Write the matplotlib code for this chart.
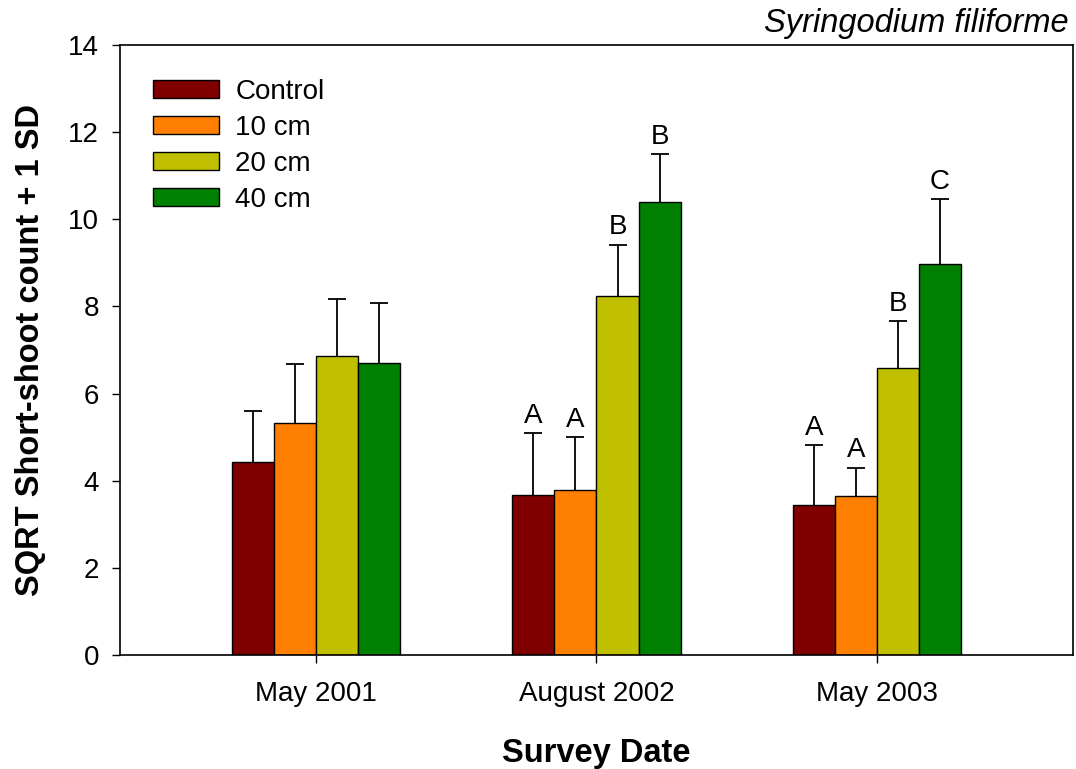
import matplotlib
matplotlib.use("Agg")
from matplotlib import pyplot as plt
import numpy as np

plt.rcParams['font.family'] = ['Liberation Sans', 'DejaVu Sans']

# ---- data ----
dates = ["May 2001", "August 2002", "May 2003"]
treatments = ["Control", "10 cm", "20 cm", "40 cm"]

control = [4.42, 3.68, 3.45]
cm10 = [5.32, 3.79, 3.64]
cm20 = [6.87, 8.25, 6.58]
cm40 = [6.70, 10.40, 8.98]

control_sd = [1.18, 1.42, 1.36]
cm10_sd = [1.37, 1.21, 0.66]
cm20_sd = [1.29, 1.17, 1.08]
cm40_sd = [1.39, 1.10, 1.49]

control_let = ["", "A", "A"]
cm10_let = ["", "A", "A"]
cm20_let = ["", "B", "B"]
cm40_let = ["", "B", "C"]

colors = ["#800000", "#FF8000", "#C0C000", "#008000"]

means = [control, cm10, cm20, cm40]
sds = [control_sd, cm10_sd, cm20_sd, cm40_sd]
letters = [control_let, cm10_let, cm20_let, cm40_let]

fig = plt.figure(figsize=(10.76, 7.69), dpi=100)
ax = fig.add_axes([0.1115, 0.1482, 0.8857, 0.7933])

x = np.arange(len(dates))
width = 0.15

for i in range(len(treatments)):
    pos = x + (i - 1.5) * width
    ax.bar(pos, means[i], width, color=colors[i], edgecolor="black",
           linewidth=1.0, label=treatments[i], zorder=2)
    eb = ax.errorbar(pos, means[i], yerr=[np.zeros(len(dates)), sds[i]], fmt="none",
                     ecolor="black", elinewidth=1.3, capsize=6.5, capthick=1.3, zorder=3)
    eb[1][0].set_visible(False)   # no cap on the bar top, only the upper one
    for j in range(len(dates)):
        if letters[i][j]:
            ax.annotate(letters[i][j], (pos[j], means[i][j] + sds[i][j]),
                        xytext=(0, 3), textcoords="offset points",
                        ha="center", va="bottom", fontsize=20)

ax.set_xlim(-0.7, 2.7)
ax.set_ylim(0, 14)
ax.set_yticks(range(0, 15, 2))
ax.set_xticks(x)
ax.set_xticklabels(dates)
ax.tick_params(axis="x", direction="out", length=6, width=1, labelsize=20, pad=13)
ax.tick_params(axis="y", direction="out", length=6, width=1, labelsize=20, pad=9)
for s in ax.spines.values():
    s.set_linewidth(1.2)

ax.set_xlabel("Survey Date", fontsize=23.5, fontweight="bold", labelpad=22)
ax.set_ylabel("SQRT Short-shoot count + 1 SD", fontsize=23.5, fontweight="bold", labelpad=16)

ax.text(0.995, 1.021, "Syringodium filiforme", transform=ax.transAxes,
        ha="right", va="baseline", fontsize=23.5, style="italic")

ax.legend(loc="upper left", bbox_to_anchor=(0.035, 0.945), frameon=False,
          fontsize=20, handlelength=2.35, handleheight=0.62, handletextpad=0.6,
          labelspacing=0.36, borderaxespad=0, borderpad=0)

fig.savefig("out.png", dpi=100)
